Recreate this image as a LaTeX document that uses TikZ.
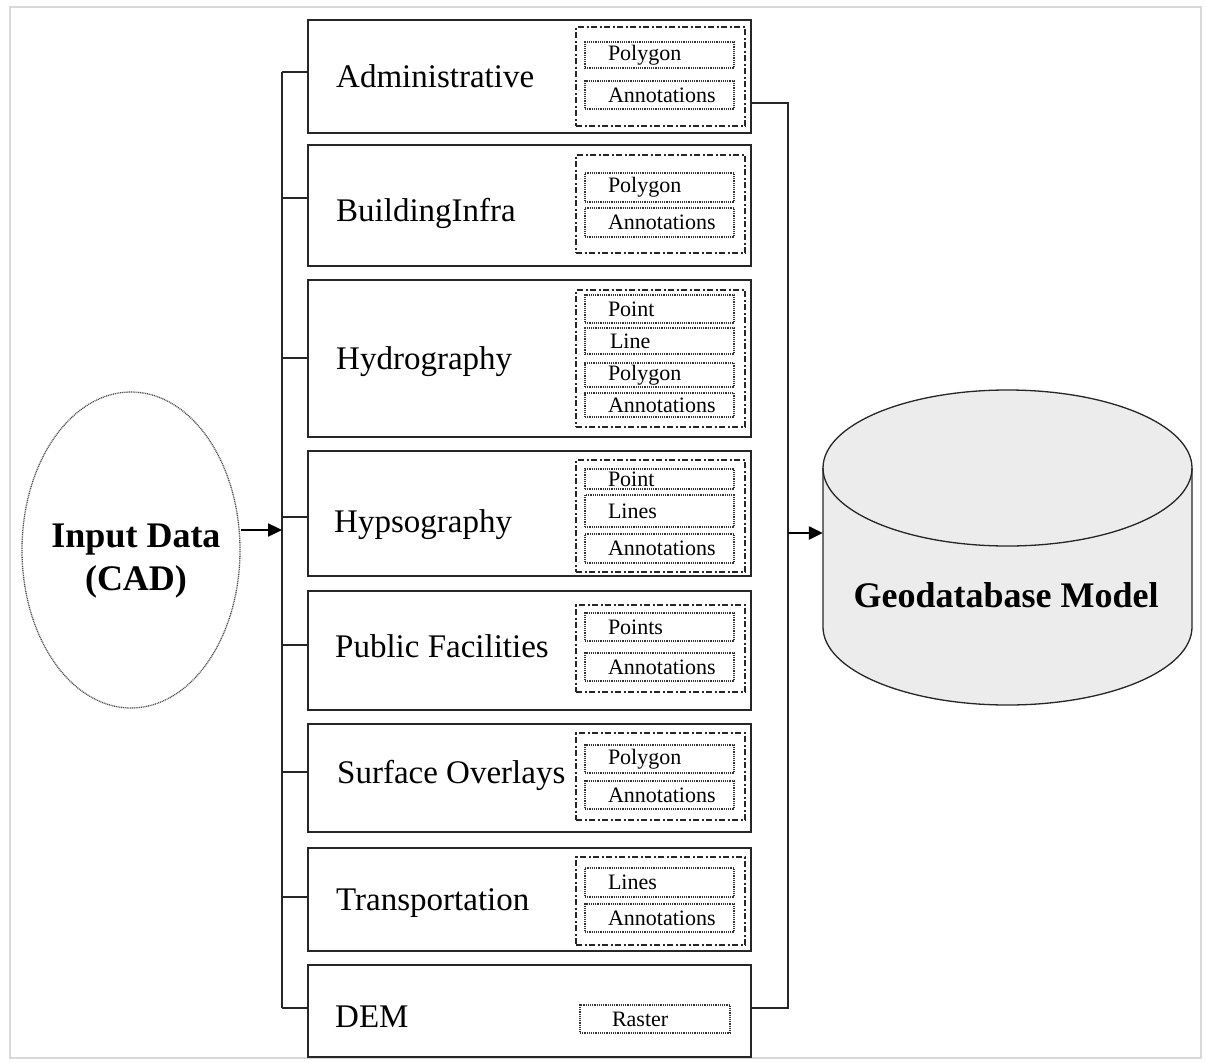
\documentclass[tikz,border=0pt]{standalone}
\usepackage{fontspec}
\setmainfont{Liberation Serif}
\usetikzlibrary{arrows.meta,shapes.geometric,calc}
\begin{document}
\begin{tikzpicture}[x=1pt,y=1pt,
  mainbox/.style={draw=black!85, line width=1.4pt, minimum width=443pt, inner sep=0pt},
  grpbox/.style={draw=black!85, line width=1.5pt, dash pattern=on 6pt off 2.5pt on 2pt off 2.5pt, minimum width=169pt, inner sep=0pt},
  itembox/.style={draw=black!80, line width=1.3pt, dash pattern=on 1.2pt off 1pt, minimum width=149pt, inner xsep=23pt, inner ysep=0pt, text width=103pt, align=left, font=\fontsize{22}{22}\selectfont},
  mainlabel/.style={anchor=base west, inner sep=0pt, font=\fontsize{33}{33}\selectfont},
  bus/.style={line width=1.4pt, draw=black!85},
  arr/.style={line width=2.4pt, draw=black, -{Triangle[length=14pt,width=13pt]}},
  bigbold/.style={font=\bfseries\fontsize{36}{43}\selectfont, align=center, inner sep=0pt}
]
\useasboundingbox (0,0) rectangle (1205,-1063);
\draw[gray!30, line width=2pt] (10,-7) rectangle (1201,-1058);

% main boxes
\node[mainbox, minimum height=113pt] (b1) at (529.5,-76.5) {};
\node[mainbox, minimum height=121pt] (b2) at (529.5,-205.5) {};
\node[mainbox, minimum height=157pt] (b3) at (529.5,-358.5) {};
\node[mainbox, minimum height=125pt] (b4) at (529.5,-513.5) {};
\node[mainbox, minimum height=119pt] (b5) at (529.5,-650.5) {};
\node[mainbox, minimum height=108pt] (b6) at (529.5,-778) {};
\node[mainbox, minimum height=103pt] (b7) at (529.5,-899.5) {};
\node[mainbox, minimum height=92pt] (b8) at (529.5,-1011) {};

% main labels
\node[mainlabel] (l1) at (336,-87) {Administrative};
\node[mainlabel] (l2) at (336,-221) {BuildingInfra};
\node[mainlabel] (l3) at (336,-369) {Hydrography};
\node[mainlabel] (l4) at (334,-532) {Hypsography};
\node[mainlabel] (l5) at (335,-657) {Public Facilities};
\node[mainlabel] (l6) at (337,-783) {Surface Overlays};
\node[mainlabel] (l7) at (336,-910) {Transportation};
\node[mainlabel] (l8) at (335,-1027) {DEM};

% group boxes
\node[grpbox, minimum height=99pt] (g1) at (660.5,-76.5) {};
\node[grpbox, minimum height=98pt] (g2) at (660.5,-204) {};
\node[grpbox, minimum height=137pt] (g3) at (660.5,-358.5) {};
\node[grpbox, minimum height=112pt] (g4) at (660.5,-516) {};
\node[grpbox, minimum height=87pt] (g5) at (660.5,-648.5) {};
\node[grpbox, minimum height=87pt] (g6) at (660.5,-776.5) {};
\node[grpbox, minimum height=88pt] (g7) at (660.5,-901) {};

% item boxes
\node[itembox, minimum height=26pt] (i11) at (659.5,-55) {Polygon};
\node[itembox, minimum height=28pt] (i12) at (659.5,-95) {Annotations};
\node[itembox, minimum height=29pt] (i21) at (659.5,-187.5) {Polygon};
\node[itembox, minimum height=29pt] (i22) at (659.5,-222.5) {Annotations};
\node[itembox, minimum height=28pt] (i31) at (659.5,-309) {Point};
\node[itembox, minimum height=26pt, inner xsep=25pt, text width=99pt] (i32) at (659.5,-341) {Line};
\node[itembox, minimum height=24pt] (i33) at (659.5,-375) {Polygon};
\node[itembox, minimum height=24pt] (i34) at (659.5,-405) {Annotations};
\node[itembox, minimum height=20pt] (i41) at (659.5,-479) {Point};
\node[itembox, minimum height=32pt] (i42) at (659.5,-511) {Lines};
\node[itembox, minimum height=29pt] (i43) at (659.5,-548.5) {Annotations};
\node[itembox, minimum height=28pt] (i51) at (659.5,-627) {Points};
\node[itembox, minimum height=28pt] (i52) at (659.5,-667) {Annotations};
\node[itembox, minimum height=28pt] (i61) at (659.5,-759) {Polygon};
\node[itembox, minimum height=28pt] (i62) at (659.5,-795) {Annotations};
\node[itembox, minimum height=29pt] (i71) at (659.5,-882.5) {Lines};
\node[itembox, minimum height=28pt] (i72) at (659.5,-918) {Annotations};
\node[itembox, minimum height=28pt, minimum width=150pt, inner xsep=32pt, text width=86pt] (i81) at (655,-1019) {Raster};

% input ellipse
\node[ellipse, draw=black!70, line width=1.3pt, dash pattern=on 1pt off 0.8pt, minimum width=218pt, minimum height=316pt, inner sep=0pt] (in) at (131,-550) {};
\node[bigbold] (intext) at (136,-561) {Input Data\\(CAD)};

% geodatabase cylinder
\fill[gray!15] (823,-468) -- (823,-627) arc[start angle=180,end angle=360,x radius=184.5,y radius=78] -- (1192,-468) arc[start angle=0,end angle=180,x radius=184.5,y radius=78] -- cycle;
\draw[line width=1.3pt, black!85] (823,-468) -- (823,-627) arc[start angle=180,end angle=360,x radius=184.5,y radius=78] -- (1192,-468);
\draw[line width=1.3pt, black!85] (1007.5,-468) ellipse[x radius=184.5,y radius=78];
\node[minimum width=369pt, minimum height=315pt, inner sep=0pt] (db) at (1007.5,-547.5) {};
\node[bigbold] (dbtext) at (1006,-595) {Geodatabase Model};

% left bus
\coordinate (L1) at (282,-72);
\coordinate (L2) at (282,-198);
\coordinate (L3) at (282,-358);
\coordinate (L4) at (282,-517);
\coordinate (L5) at (282,-645);
\coordinate (L6) at (282,-772);
\coordinate (L7) at (282,-897);
\coordinate (L8) at (282,-1008);
\draw[bus] (L1) -- (L8);
\foreach \i in {1,...,8} { \draw[bus] (L\i) -- (L\i -| b\i.west); }
\coordinate (J) at (282,-530);
\draw[arr] (J -| in.east) -- (J);

% right bus
\coordinate (R1) at (788,-103);
\coordinate (R8) at (788,-1008);
\draw[bus] (R1 -| b1.east) -- (R1) -- (R8) -- (R8 -| b8.east);
\coordinate (K) at (788,-533);
\draw[arr] (K) -- (K -| db.west);
\end{tikzpicture}
\end{document}
